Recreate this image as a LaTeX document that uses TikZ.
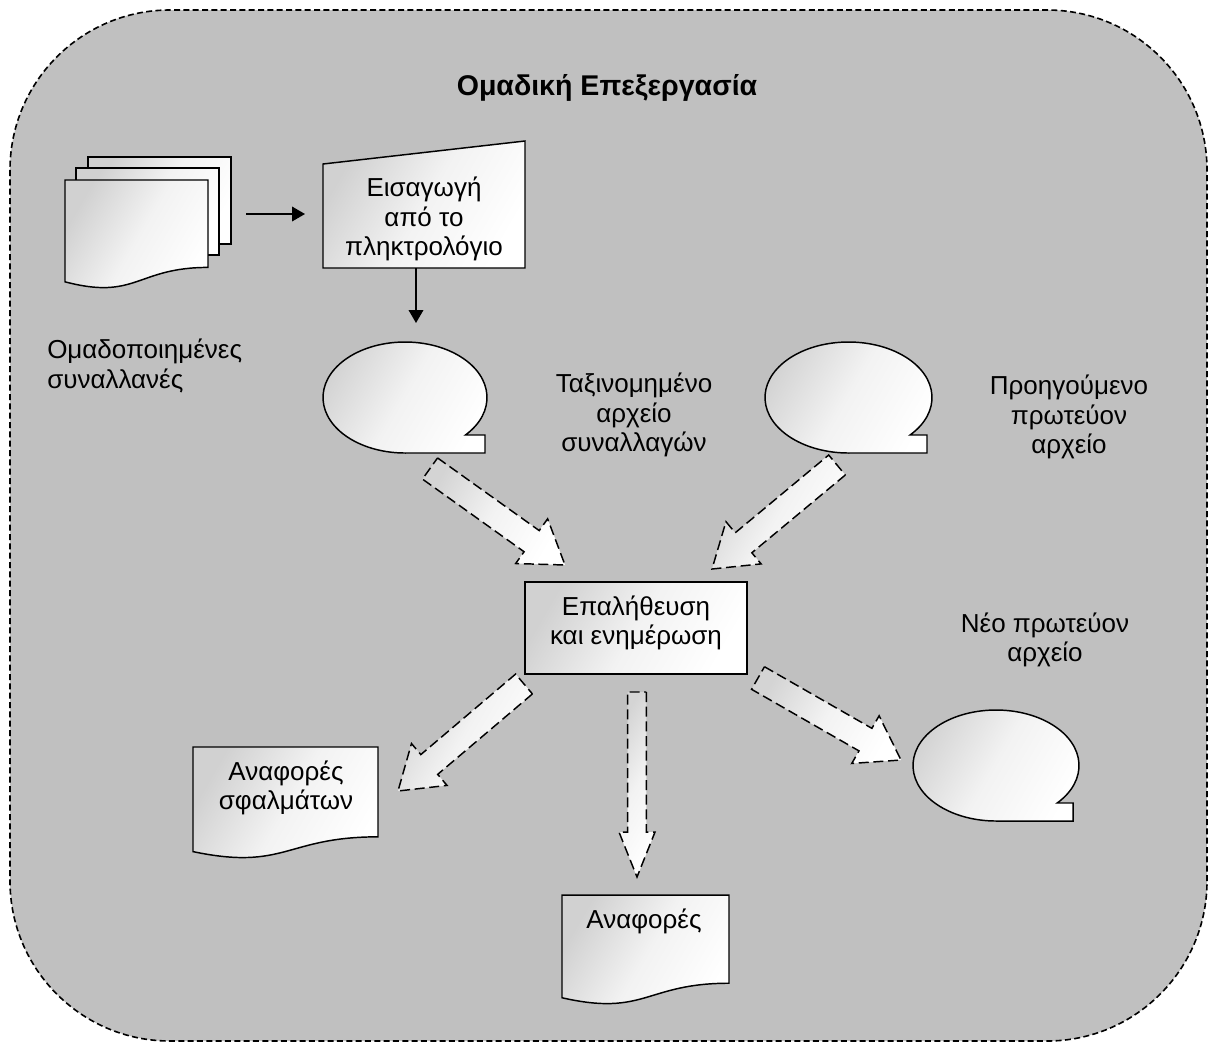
\documentclass[tikz,border=0pt]{standalone}
\usepackage{fontspec}
\setmainfont{Liberation Sans}
\usetikzlibrary{calc,arrows.meta}

\definecolor{panelgray}{RGB}{192,192,192}

% document sheet with a wavy lower edge: left, top, width, height
\newcommand\docshape[4]{%
  \path[shapefill] (#1,#2) -- ({#1+#3},#2) -- ({#1+#3},{#2+0.802*#4})
    .. controls ({#1+0.5*#3},{#2+0.802*#4}) and ({#1+0.5*#3},{#2+1.107*#4}) .. (#1,{#2+0.934*#4}) -- cycle;}

% sequential-access (tape) storage: centre x, centre y, x radius, y radius, tail end x, notch y
\newcommand\tapeshape[6]{%
  \pgfmathsetmacro\tapeang{asin((#6-#2)/#4)}%
  \path[shapefill] (#1,{#2+#4}) -- (#5,{#2+#4}) -- (#5,#6) -- ({#1+#3*cos(\tapeang)},#6)
    arc[start angle=\tapeang, end angle=-270, x radius=#3, y radius=#4] -- cycle;}

% hollow block arrow: tail, tip, half shaft width, half head width, head length
\newcommand\blockarrow[5]{%
  \path[blockarr] ($(#1)!#3!90:(#2)$)
    -- ($($(#2)!#5!(#1)$)!#3!90:(#2)$)
    -- ($($(#2)!#5!(#1)$)!#4!90:(#2)$)
    -- (#2)
    -- ($($(#2)!#5!(#1)$)!#4!-90:(#2)$)
    -- ($($(#2)!#5!(#1)$)!#3!-90:(#2)$)
    -- ($(#1)!#3!-90:(#2)$) -- cycle;}

\begin{document}
\begin{tikzpicture}[x=0.75pt,y=-0.75pt,
  panel/.style={draw=black, line width=1.2pt, dash pattern=on 4.5pt off 2.5pt,
    fill=panelgray, rounded corners=120pt},
  shapefill/.style={draw=black, line width=1.1pt, top color=black!18,
    bottom color=white, middle color=black!5, shading angle=60},
  blockarr/.style={draw=black, line width=1.1pt, dash pattern=on 7.5pt off 3.5pt,
    top color=black!17, bottom color=white, middle color=black!5, shading angle=60,
    line join=miter},
  flow/.style={draw=black, line width=1.1pt, -{Triangle[length=9.75pt, width=11pt]}},
  lbl/.style={font=\fontsize{19.5}{22}\selectfont, align=center, inner sep=0pt},
  heading/.style={font=\fontsize{21.4}{24}\selectfont\bfseries, inner sep=0pt}]

\useasboundingbox (0,0) rectangle (1212,1043);

% group frame
\path[panel] (10,10) rectangle (1207,1041);
\node[heading] (ttl) at (607,88) {Ομαδική Επεξεργασία};

% stacked batch of transaction forms
\path[shapefill] (88,157) rectangle (231,244);
\path[shapefill] (76,168) rectangle (219,255);
\docshape{65}{180}{143}{109}
\node[lbl, align=left, anchor=west] (grp) at (47,366) {Ομαδοποιημένες\\συναλλανές};

% keyboard entry
\path[shapefill] (323,164) -- (525,141) -- (525,268) -- (323,268) -- cycle;
\node[lbl] (inp) at (424,219) {Εισαγωγή\\από το\\πληκτρολόγιο};

\coordinate (stackE) at (246,214);
\coordinate (inpW) at (305,214);
\draw[flow] (stackE) -- (inpW);
\coordinate (inpS) at (416,268);
\coordinate (tapeN) at (416,323);
\draw[flow] (inpS) -- (tapeN);

% tape files
\tapeshape{405}{397.5}{82}{55.5}{485}{435}
\node[lbl] (srt) at (634,415) {Ταξινομημένο\\αρχείο\\συναλλαγών};
\tapeshape{848.5}{397.5}{83.5}{55.5}{927}{435}
\node[lbl] (old) at (1069,417) {Προηγούμενο\\πρωτεύον\\αρχείο};
\tapeshape{996}{765.5}{83}{55.5}{1073}{803}
\node[lbl] (new) at (1045,640) {Νέο πρωτεύον\\αρχείο};

% update run
\path[shapefill] (525,582) rectangle (747,674);
\node[lbl] (upd) at (636,623) {Επαλήθευση\\και ενημέρωση};

% printed output
\docshape{193}{747}{185}{112}
\node[lbl] (err) at (286,788) {Αναφορές\\σφαλμάτων};
\docshape{562}{895}{167}{110}
\node[lbl] (rep) at (644,921) {Αναφορές};

% data flows into and out of the update run
\coordinate (aT) at (430,468.5); \coordinate (aH) at (565,565);
\coordinate (bT) at (837,465);   \coordinate (bH) at (712,569);
\coordinate (cT) at (524,684);   \coordinate (cH) at (398,791);
\coordinate (dT) at (637,692);   \coordinate (dH) at (637,877);
\coordinate (eT) at (758,678);   \coordinate (eH) at (901,760);
\blockarrow{aT}{aH}{9.75pt}{20.6pt}{30.75pt}
\blockarrow{bT}{bH}{9.75pt}{20.6pt}{30.75pt}
\blockarrow{cT}{cH}{9.75pt}{20.6pt}{30.75pt}
\blockarrow{dT}{dH}{7.1pt}{13.5pt}{33.75pt}
\blockarrow{eT}{eH}{9.75pt}{20.6pt}{30.75pt}
\end{tikzpicture}
\end{document}
